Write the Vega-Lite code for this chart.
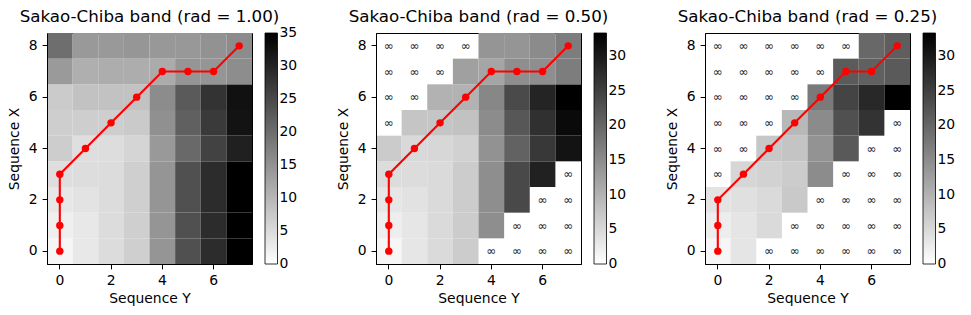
{
  "$schema": "https://vega.github.io/schema/vega-lite/v6.json",
  "padding": {"left": 6, "top": 8, "right": 0, "bottom": 0},
  "spacing": 36,
  "config": {
    "font": "DejaVu Sans",
    "view": {"stroke": "#000000", "strokeWidth": 1},
    "axis": {"labelFont": "DejaVu Sans", "labelFontSize": 13.9, "labelColor": "#000000", "titleFont": "DejaVu Sans", "titleFontSize": 13.9, "titleFontWeight": "normal", "titleColor": "#000000", "tickColor": "#000000", "domainColor": "#000000", "tickSize": 4.9, "labelPadding": 4.9, "titlePadding": 3.5, "grid": false},
    "axisY": {"titlePadding": 7},
    "legend": {"gradientLength": 231, "gradientThickness": 12.5, "offset": 12.5, "padding": 0, "labelFont": "DejaVu Sans", "labelFontSize": 13.9, "labelColor": "#000000", "labelOffset": 9.8, "gradientStrokeColor": "#000000", "gradientStrokeWidth": 0.8, "labelOverlap": false, "labelBaseline": "middle"},
    "title": {"font": "DejaVu Sans", "fontSize": 16.7, "fontWeight": "normal", "color": "#000000", "offset": 7.5, "frame": "group", "anchor": "middle", "baseline": "alphabetic"}
  },
  "datasets": {
    "p1": [
      {"r":0,"c":0,"v":1.2},{"r":0,"c":1,"v":3.2},{"r":0,"c":2,"v":4.8},{"r":0,"c":3,"v":6.6},{"r":0,"c":4,"v":14.5},{"r":0,"c":5,"v":24.0},{"r":0,"c":6,"v":29.0},{"r":0,"c":7,"v":35.0},
      {"r":1,"c":0,"v":2.2},{"r":1,"c":1,"v":3.2},{"r":1,"c":2,"v":4.8},{"r":1,"c":3,"v":6.6},{"r":1,"c":4,"v":14.5},{"r":1,"c":5,"v":24.0},{"r":1,"c":6,"v":29.0},{"r":1,"c":7,"v":35.0},
      {"r":2,"c":0,"v":3.3},{"r":2,"c":1,"v":3.8},{"r":2,"c":2,"v":4.8},{"r":2,"c":3,"v":6.6},{"r":2,"c":4,"v":14.5},{"r":2,"c":5,"v":24.0},{"r":2,"c":6,"v":29.0},{"r":2,"c":7,"v":35.0},
      {"r":3,"c":0,"v":4.5},{"r":3,"c":1,"v":4.6},{"r":3,"c":2,"v":4.8},{"r":3,"c":3,"v":6.6},{"r":3,"c":4,"v":14.5},{"r":3,"c":5,"v":24.0},{"r":3,"c":6,"v":29.0},{"r":3,"c":7,"v":35.0},
      {"r":4,"c":0,"v":6.8},{"r":4,"c":1,"v":4.5},{"r":4,"c":2,"v":4.6},{"r":4,"c":3,"v":5.8},{"r":4,"c":4,"v":14.0},{"r":4,"c":5,"v":20.6},{"r":4,"c":6,"v":26.0},{"r":4,"c":7,"v":30.6},
      {"r":5,"c":0,"v":6.7},{"r":5,"c":1,"v":6.7},{"r":5,"c":2,"v":6.7},{"r":5,"c":3,"v":7.3},{"r":5,"c":4,"v":15.2},{"r":5,"c":5,"v":21.8},{"r":5,"c":6,"v":27.0},{"r":5,"c":7,"v":32.4},
      {"r":6,"c":0,"v":7.2},{"r":6,"c":1,"v":8.3},{"r":6,"c":2,"v":8.3},{"r":6,"c":3,"v":8.3},{"r":6,"c":4,"v":15.8},{"r":6,"c":5,"v":22.7},{"r":6,"c":6,"v":28.0},{"r":6,"c":7,"v":32.7},
      {"r":7,"c":0,"v":13.8},{"r":7,"c":1,"v":11.0},{"r":7,"c":2,"v":11.2},{"r":7,"c":3,"v":11.3},{"r":7,"c":4,"v":11.5},{"r":7,"c":5,"v":14.6},{"r":7,"c":6,"v":14.6},{"r":7,"c":7,"v":15.6},
      {"r":8,"c":0,"v":19.9},{"r":8,"c":1,"v":14.0},{"r":8,"c":2,"v":14.0},{"r":8,"c":3,"v":14.4},{"r":8,"c":4,"v":14.2},{"r":8,"c":5,"v":14.2},{"r":8,"c":6,"v":15.0},{"r":8,"c":7,"v":15.8}
    ],
    "p2": [
      {"r":0,"c":0,"v":1.2},{"r":0,"c":1,"v":3.2},{"r":0,"c":2,"v":4.8},{"r":0,"c":3,"v":6.6},{"r":0,"c":4,"v":null},{"r":0,"c":5,"v":null},{"r":0,"c":6,"v":null},{"r":0,"c":7,"v":null},
      {"r":1,"c":0,"v":2.2},{"r":1,"c":1,"v":3.2},{"r":1,"c":2,"v":4.8},{"r":1,"c":3,"v":6.6},{"r":1,"c":4,"v":14.8},{"r":1,"c":5,"v":null},{"r":1,"c":6,"v":null},{"r":1,"c":7,"v":null},
      {"r":2,"c":0,"v":3.3},{"r":2,"c":1,"v":3.8},{"r":2,"c":2,"v":4.8},{"r":2,"c":3,"v":6.6},{"r":2,"c":4,"v":14.8},{"r":2,"c":5,"v":23.8},{"r":2,"c":6,"v":null},{"r":2,"c":7,"v":null},
      {"r":3,"c":0,"v":4.5},{"r":3,"c":1,"v":4.6},{"r":3,"c":2,"v":4.8},{"r":3,"c":3,"v":6.6},{"r":3,"c":4,"v":14.8},{"r":3,"c":5,"v":23.8},{"r":3,"c":6,"v":29.0},{"r":3,"c":7,"v":null},
      {"r":4,"c":0,"v":6.8},{"r":4,"c":1,"v":5.0},{"r":4,"c":2,"v":5.2},{"r":4,"c":3,"v":6.0},{"r":4,"c":4,"v":14.2},{"r":4,"c":5,"v":20.5},{"r":4,"c":6,"v":26.0},{"r":4,"c":7,"v":30.8},
      {"r":5,"c":0,"v":null},{"r":5,"c":1,"v":7.6},{"r":5,"c":2,"v":7.6},{"r":5,"c":3,"v":8.0},{"r":5,"c":4,"v":15.0},{"r":5,"c":5,"v":22.0},{"r":5,"c":6,"v":27.0},{"r":5,"c":7,"v":32.0},
      {"r":6,"c":0,"v":null},{"r":6,"c":1,"v":null},{"r":6,"c":2,"v":10.1},{"r":6,"c":3,"v":10.1},{"r":6,"c":4,"v":15.7},{"r":6,"c":5,"v":23.6},{"r":6,"c":6,"v":28.6},{"r":6,"c":7,"v":33.3},
      {"r":7,"c":0,"v":null},{"r":7,"c":1,"v":null},{"r":7,"c":2,"v":null},{"r":7,"c":3,"v":12.4},{"r":7,"c":4,"v":11.8},{"r":7,"c":5,"v":14.7},{"r":7,"c":6,"v":14.7},{"r":7,"c":7,"v":17.0},
      {"r":8,"c":0,"v":null},{"r":8,"c":1,"v":null},{"r":8,"c":2,"v":null},{"r":8,"c":3,"v":null},{"r":8,"c":4,"v":13.9},{"r":8,"c":5,"v":13.9},{"r":8,"c":6,"v":15.1},{"r":8,"c":7,"v":17.0}
    ],
    "p3": [
      {"r":0,"c":0,"v":1.2},{"r":0,"c":1,"v":3.4},{"r":0,"c":2,"v":null},{"r":0,"c":3,"v":null},{"r":0,"c":4,"v":null},{"r":0,"c":5,"v":null},{"r":0,"c":6,"v":null},{"r":0,"c":7,"v":null},
      {"r":1,"c":0,"v":2.3},{"r":1,"c":1,"v":3.4},{"r":1,"c":2,"v":4.8},{"r":1,"c":3,"v":null},{"r":1,"c":4,"v":null},{"r":1,"c":5,"v":null},{"r":1,"c":6,"v":null},{"r":1,"c":7,"v":null},
      {"r":2,"c":0,"v":3.6},{"r":2,"c":1,"v":4.0},{"r":2,"c":2,"v":4.8},{"r":2,"c":3,"v":7.0},{"r":2,"c":4,"v":null},{"r":2,"c":5,"v":null},{"r":2,"c":6,"v":null},{"r":2,"c":7,"v":null},
      {"r":3,"c":0,"v":null},{"r":3,"c":1,"v":5.4},{"r":3,"c":2,"v":5.9},{"r":3,"c":3,"v":6.7},{"r":3,"c":4,"v":15.0},{"r":3,"c":5,"v":null},{"r":3,"c":6,"v":null},{"r":3,"c":7,"v":null},
      {"r":4,"c":0,"v":null},{"r":4,"c":1,"v":null},{"r":4,"c":2,"v":7.3},{"r":4,"c":3,"v":7.7},{"r":4,"c":4,"v":14.1},{"r":4,"c":5,"v":21.7},{"r":4,"c":6,"v":null},{"r":4,"c":7,"v":null},
      {"r":5,"c":0,"v":null},{"r":5,"c":1,"v":null},{"r":5,"c":2,"v":null},{"r":5,"c":3,"v":9.3},{"r":5,"c":4,"v":15.2},{"r":5,"c":5,"v":22.9},{"r":5,"c":6,"v":26.6},{"r":5,"c":7,"v":null},
      {"r":6,"c":0,"v":null},{"r":6,"c":1,"v":null},{"r":6,"c":2,"v":null},{"r":6,"c":3,"v":null},{"r":6,"c":4,"v":17.4},{"r":6,"c":5,"v":24.4},{"r":6,"c":6,"v":28.1},{"r":6,"c":7,"v":33.3},
      {"r":7,"c":0,"v":null},{"r":7,"c":1,"v":null},{"r":7,"c":2,"v":null},{"r":7,"c":3,"v":null},{"r":7,"c":4,"v":null},{"r":7,"c":5,"v":21.4},{"r":7,"c":6,"v":20.8},{"r":7,"c":7,"v":21.5},
      {"r":8,"c":0,"v":null},{"r":8,"c":1,"v":null},{"r":8,"c":2,"v":null},{"r":8,"c":3,"v":null},{"r":8,"c":4,"v":null},{"r":8,"c":5,"v":null},{"r":8,"c":6,"v":19.7},{"r":8,"c":7,"v":21.0}
    ],
    "path12": [
      {"r":0,"c":0},{"r":1,"c":0},{"r":2,"c":0},{"r":3,"c":0},{"r":4,"c":1},{"r":5,"c":2},{"r":6,"c":3},{"r":7,"c":4},{"r":7,"c":5},{"r":7,"c":6},{"r":8,"c":7}
    ],
    "path3": [
      {"r":0,"c":0},{"r":1,"c":0},{"r":2,"c":0},{"r":3,"c":1},{"r":4,"c":2},{"r":5,"c":3},{"r":6,"c":4},{"r":7,"c":5},{"r":7,"c":6},{"r":8,"c":7}
    ]
  },
  "hconcat": [
    {
      "width": 205, "height": 231,
      "title": "Sakao-Chiba band (rad = 1.00)",
      "encoding": {
        "x": {"field": "c", "type": "ordinal", "scale": {"domain": [0,1,2,3,4,5,6,7], "paddingInner": 0, "paddingOuter": 0}, "axis": {"values": [0,2,4,6], "title": "Sequence Y", "labelAngle": 0}},
        "y": {"field": "r", "type": "ordinal", "scale": {"domain": [8,7,6,5,4,3,2,1,0], "paddingInner": 0, "paddingOuter": 0}, "axis": {"values": [0,2,4,6,8], "title": "Sequence X"}}
      },
      "layer": [
        {"data": {"name": "p1"}, "transform": [{"filter": {"field": "v", "valid": true}}],
         "mark": {"type": "rect"},
         "encoding": {
           "color": {"field": "v", "type": "quantitative", "scale": {"domain": [-0.01, 35.01], "range": ["#ffffff", "#000000"], "interpolate": "rgb", "nice": false}, "legend": {"values": [0,5,10,15,20,25,30,35], "title": null}}
         }},
        {"data": {"name": "p1"}, "transform": [{"filter": {"not": {"field": "v", "valid": true}}}],
         "mark": {"type": "text", "text": "∞", "fontSize": 12, "color": "#1a1a1a", "baseline": "middle", "align": "center"}},
        {"data": {"name": "path12"}, "mark": {"type": "line", "color": "#ff0000", "strokeWidth": 2.1},
         "encoding": {"order": [{"field": "r", "type": "quantitative"}, {"field": "c", "type": "quantitative"}]}},
        {"data": {"name": "path12"}, "mark": {"type": "circle", "color": "#ff0000", "size": 55, "opacity": 1}}
      ]
    },
    {
      "width": 205, "height": 231,
      "title": "Sakao-Chiba band (rad = 0.50)",
      "encoding": {
        "x": {"field": "c", "type": "ordinal", "scale": {"domain": [0,1,2,3,4,5,6,7], "paddingInner": 0, "paddingOuter": 0}, "axis": {"values": [0,2,4,6], "title": "Sequence Y", "labelAngle": 0}},
        "y": {"field": "r", "type": "ordinal", "scale": {"domain": [8,7,6,5,4,3,2,1,0], "paddingInner": 0, "paddingOuter": 0}, "axis": {"values": [0,2,4,6,8], "title": "Sequence X"}}
      },
      "layer": [
        {"data": {"name": "p2"}, "transform": [{"filter": {"field": "v", "valid": true}}],
         "mark": {"type": "rect"},
         "encoding": {
           "color": {"field": "v", "type": "quantitative", "scale": {"domain": [-0.01, 33.3], "range": ["#ffffff", "#000000"], "interpolate": "rgb", "nice": false}, "legend": {"values": [0,5,10,15,20,25,30], "title": null}}
         }},
        {"data": {"name": "p2"}, "transform": [{"filter": {"not": {"field": "v", "valid": true}}}],
         "mark": {"type": "text", "text": "∞", "fontSize": 12, "color": "#1a1a1a", "baseline": "middle", "align": "center"}},
        {"data": {"name": "path12"}, "mark": {"type": "line", "color": "#ff0000", "strokeWidth": 2.1},
         "encoding": {"order": [{"field": "r", "type": "quantitative"}, {"field": "c", "type": "quantitative"}]}},
        {"data": {"name": "path12"}, "mark": {"type": "circle", "color": "#ff0000", "size": 55, "opacity": 1}}
      ]
    },
    {
      "width": 205, "height": 231,
      "title": "Sakao-Chiba band (rad = 0.25)",
      "encoding": {
        "x": {"field": "c", "type": "ordinal", "scale": {"domain": [0,1,2,3,4,5,6,7], "paddingInner": 0, "paddingOuter": 0}, "axis": {"values": [0,2,4,6], "title": "Sequence Y", "labelAngle": 0}},
        "y": {"field": "r", "type": "ordinal", "scale": {"domain": [8,7,6,5,4,3,2,1,0], "paddingInner": 0, "paddingOuter": 0}, "axis": {"values": [0,2,4,6,8], "title": "Sequence X"}}
      },
      "layer": [
        {"data": {"name": "p3"}, "transform": [{"filter": {"field": "v", "valid": true}}],
         "mark": {"type": "rect"},
         "encoding": {
           "color": {"field": "v", "type": "quantitative", "scale": {"domain": [-0.01, 33.3], "range": ["#ffffff", "#000000"], "interpolate": "rgb", "nice": false}, "legend": {"values": [0,5,10,15,20,25,30], "title": null}}
         }},
        {"data": {"name": "p3"}, "transform": [{"filter": {"not": {"field": "v", "valid": true}}}],
         "mark": {"type": "text", "text": "∞", "fontSize": 12, "color": "#1a1a1a", "baseline": "middle", "align": "center"}},
        {"data": {"name": "path3"}, "mark": {"type": "line", "color": "#ff0000", "strokeWidth": 2.1},
         "encoding": {"order": [{"field": "r", "type": "quantitative"}, {"field": "c", "type": "quantitative"}]}},
        {"data": {"name": "path3"}, "mark": {"type": "circle", "color": "#ff0000", "size": 55, "opacity": 1}}
      ]
    }
  ],
  "resolve": {"scale": {"color": "independent"}}
}
